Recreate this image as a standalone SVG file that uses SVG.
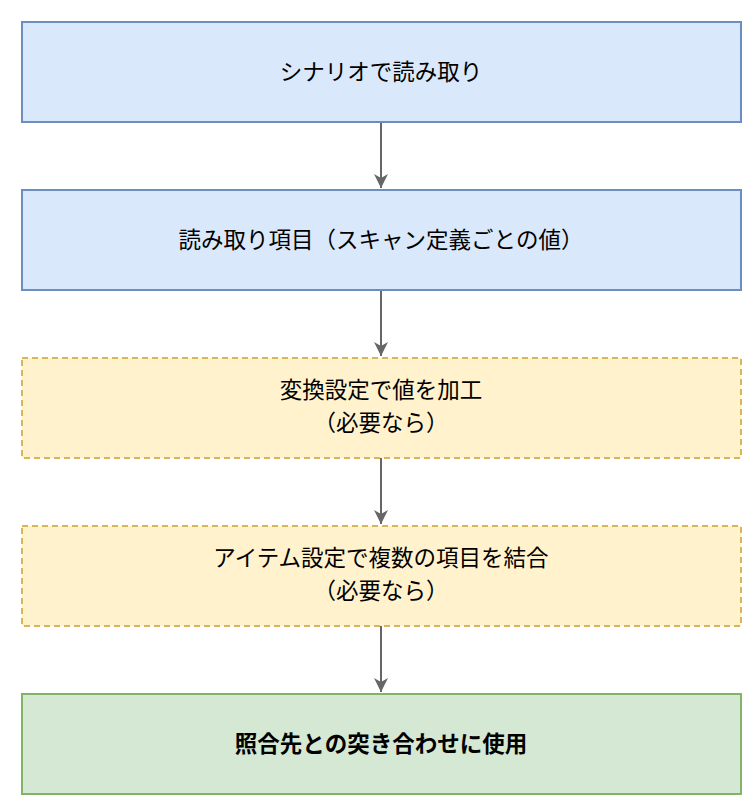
<svg xmlns="http://www.w3.org/2000/svg" width="755" height="807" viewBox="0 0 755 807">
<style>
text{font-family:"Noto Sans CJK JP","Liberation Sans",sans-serif;font-size:22.5px;fill:#000;text-anchor:middle}
.b{fill:#dae8fc;stroke:#6c8ebf;stroke-width:2}
.y{fill:#fff2cc;stroke:#d6b656;stroke-width:2;stroke-dasharray:6 4}
.g{fill:#d5e8d4;stroke:#82b366;stroke-width:2}
.c{stroke:#666;stroke-width:2;fill:none}
</style>
<defs><marker id="a" markerWidth="16" markerHeight="16" refX="14" refY="7" orient="auto" markerUnits="userSpaceOnUse"><path d="M0,0 L14,7 L0,14 L4,7 Z" fill="#666"/></marker></defs>
<g id="connectors">
<path class="c" d="M381,122 V188" marker-end="url(#a)"/>
<path class="c" d="M381,290 V356" marker-end="url(#a)"/>
<path class="c" d="M381,458 V524" marker-end="url(#a)"/>
<path class="c" d="M381,626 V692" marker-end="url(#a)"/>
</g>
<g id="n1"><rect class="b" x="22" y="22" width="719" height="100"/><text x="381" y="80">シナリオで読み取り</text></g>
<g id="n2"><rect class="b" x="22" y="190" width="719" height="100"/><text x="381" y="248">読み取り項目（スキャン定義ごとの値）</text></g>
<g id="n3"><rect class="y" x="22" y="358" width="719" height="100"/><text x="381" y="398">変換設定で値を加工</text><text x="381" y="431">（必要なら）</text></g>
<g id="n4"><rect class="y" x="22" y="526" width="719" height="100"/><text x="381" y="566">アイテム設定で複数の項目を結合</text><text x="381" y="599">（必要なら）</text></g>
<g id="n5"><rect class="g" x="22" y="694" width="719" height="100"/><text x="381" y="752" font-weight="bold">照合先との突き合わせに使用</text></g>
</svg>
